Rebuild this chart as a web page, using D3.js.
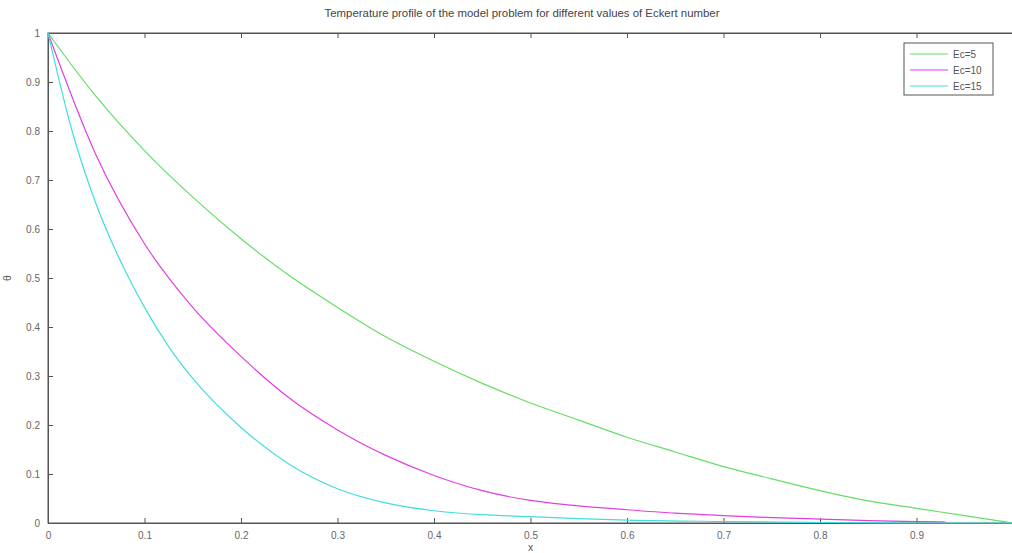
<!DOCTYPE html>
<html><head><meta charset="utf-8">
<script src="https://cdn.jsdelivr.net/npm/d3@7"></script>
<style>body{margin:0;background:#fff;} svg{display:block;font-family:"Liberation Sans",Arial,sans-serif;}</style>
</head><body><div id="chart"></div>
<script>
const title = "Temperature profile of the model problem for different values of Eckert number";
const xLabel = "x";
const yLabel = "θ";
const seriesNames = ["Ec=5", "Ec=10", "Ec=15"];
const seriesColors = ["#66dd66", "#e040e0", "#40dede"];
const xTicks = [0, 0.1, 0.2, 0.3, 0.4, 0.5, 0.6, 0.7, 0.8, 0.9];
const yTicks = [0, 0.1, 0.2, 0.3, 0.4, 0.5, 0.6, 0.7, 0.8, 0.9, 1];

const xs5  = [0, 0.05, 0.1, 0.15, 0.2, 0.25, 0.3, 0.35, 0.4, 0.45, 0.5, 0.55, 0.6, 0.65, 0.7, 0.75, 0.8, 0.85, 0.9, 0.95, 1.0];
const ec5  = [1, 0.87, 0.76, 0.665, 0.58, 0.505, 0.44, 0.38, 0.33, 0.285, 0.245, 0.21, 0.175, 0.145, 0.115, 0.09, 0.066, 0.045, 0.03, 0.015, 0];
const xs10 = [0, 0.05, 0.1, 0.15, 0.2, 0.25, 0.3, 0.35, 0.4, 0.45, 0.5, 0.55, 0.6, 0.65, 0.7, 0.75, 0.8, 0.85, 0.9, 0.93];
const ec10 = [1, 0.75, 0.57, 0.44, 0.34, 0.255, 0.19, 0.138, 0.097, 0.066, 0.046, 0.035, 0.027, 0.02, 0.015, 0.011, 0.008, 0.005, 0.003, 0.002];
const xs15 = [0, 0.025, 0.05, 0.075, 0.1, 0.125, 0.15, 0.2, 0.25, 0.3, 0.35, 0.4, 0.45, 0.5, 0.55, 0.6, 0.7, 0.8, 0.9, 1.0];
const ec15 = [1, 0.8, 0.65, 0.535, 0.44, 0.36, 0.295, 0.195, 0.12, 0.07, 0.041, 0.025, 0.017, 0.013, 0.009, 0.006, 0.003, 0.001, 0, 0];

const W = 1012, H = 553;
const m = {left: 48, top: 33, right: -1, bottom: 30};
const svg = d3.select("#chart").append("svg").attr("width", W).attr("height", H);
const x = d3.scaleLinear().domain([0, 1]).range([m.left, W - m.right]);
const y = d3.scaleLinear().domain([0, 1]).range([H - m.bottom, m.top]);

const axisColor = "#555";
svg.append("rect").attr("x", x(0)).attr("y", y(1)).attr("width", x(1) - x(0)).attr("height", y(0) - y(1))
  .attr("fill", "none").attr("stroke", axisColor).attr("stroke-width", 1);

const gx = svg.append("g").attr("transform", `translate(0,${y(0)})`)
  .call(d3.axisBottom(x).tickValues(xTicks).tickSize(-5).tickPadding(9).tickFormat(d => d3.format("")(d)));
const gxt = svg.append("g").attr("transform", `translate(0,${y(1)})`)
  .call(d3.axisTop(x).tickValues(xTicks).tickSize(-5).tickFormat(""));
const gy = svg.append("g").attr("transform", `translate(${x(0)},0)`)
  .call(d3.axisLeft(y).tickValues(yTicks).tickSize(-5).tickPadding(8).tickFormat(d => d3.format("")(d)));
[gx, gxt, gy].forEach(g => {
  g.select(".domain").attr("stroke", axisColor);
  g.selectAll(".tick line").attr("stroke", axisColor);
  g.selectAll("text").attr("fill", "#666").style("font-size", "10px").style("font-family", "Liberation Sans, Arial, sans-serif");
});

const line = d3.line().x(d => x(d[0])).y(d => y(d[1])).curve(d3.curveMonotoneX);
const data = [d3.zip(xs5, ec5), d3.zip(xs10, ec10), d3.zip(xs15, ec15)];
data.forEach((d, i) => {
  svg.append("path").datum(d).attr("d", line).attr("fill", "none")
    .attr("stroke", seriesColors[i]).attr("stroke-width", 1.2);
});

svg.append("text").attr("x", 522).attr("y", 17).attr("text-anchor", "middle")
  .attr("fill", "#444").style("font-size", "11.4px").text(title);
svg.append("text").attr("x", x(0.5)).attr("y", 551).attr("text-anchor", "middle")
  .attr("fill", "#555").style("font-size", "10.5px").text(xLabel);
svg.append("text").attr("transform", `translate(11,${y(0.5)}) rotate(-90)`).attr("text-anchor", "middle")
  .attr("fill", "#555").style("font-size", "10.5px").text(yLabel);

const lg = svg.append("g").attr("transform", "translate(904,43)");
lg.append("rect").attr("width", 89).attr("height", 52).attr("fill", "#fff").attr("stroke", "#555");
seriesNames.forEach((n, i) => {
  const yy = 11 + i * 16;
  lg.append("line").attr("x1", 6).attr("x2", 44).attr("y1", yy).attr("y2", yy)
    .attr("stroke", seriesColors[i]).attr("stroke-width", 1.2);
  lg.append("text").attr("x", 49).attr("y", yy + 3.5).attr("fill", "#555")
    .style("font-size", "10px").text(n);
});
</script></body></html>
